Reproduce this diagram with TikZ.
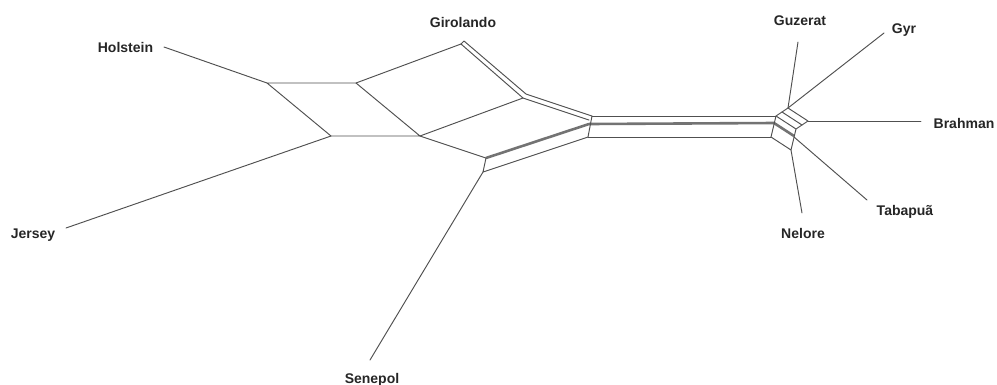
\documentclass[tikz,border=0pt]{standalone}
\usepackage{fontspec}
\setmainfont{Liberation Sans}
\definecolor{netgray}{RGB}{80,80,80}
\definecolor{bandgray}{RGB}{115,115,115}
\begin{document}
\begin{tikzpicture}[x=1pt,y=-1pt,
  edge/.style={draw=netgray, line width=0.95pt, line cap=round, line join=round},
  heavy/.style={draw=bandgray, line width=2.6pt},
  taxon/.style={font=\bfseries\fontsize{14}{16}\selectfont, inner sep=0pt, text=black!85, anchor=base}]
\useasboundingbox (0,0) rectangle (997,384);

% --- split network vertices: left block
\coordinate (A) at (267,83);
\coordinate (B) at (356,83);
\coordinate (C) at (331,136);
\coordinate (D) at (420,136);
\coordinate (E) at (461,44);
\coordinate (E2) at (464,41);
\coordinate (F) at (523,98);
\coordinate (F2) at (526,94);
\coordinate (G) at (589,120);
\coordinate (G2) at (592,116);
\coordinate (Gm) at (589,124);
\coordinate (Gb) at (588,137);
\coordinate (H) at (486,158);
\coordinate (Hb) at (483,172);

% --- right block
\coordinate (Q) at (776,116);
\coordinate (Qm) at (774,123);
\coordinate (M) at (771,137);
\coordinate (T) at (788,108);
\coordinate (R) at (808,121);
\coordinate (S) at (796,129);
\coordinate (Th) at (782,112);
\coordinate (Rh) at (802,125);
\coordinate (Sm) at (794,136);
\coordinate (N) at (791,150);
\coordinate (Tb) at (794,137);

% --- free ends of the pendant edges
\coordinate (holE) at (164,47);
\coordinate (jerE) at (66,228);
\coordinate (senE) at (370,360);
\coordinate (guzE) at (798,42);
\coordinate (gyrE) at (884,33);
\coordinate (braE) at (921,121);
\coordinate (tabE) at (867,200);
\coordinate (nelE) at (802,213);

% --- gray (heavy) split lines
\draw[heavy] (H) -- (Gm);
\draw[heavy] (Gm) -- (Qm);
\draw[heavy] (Qm) -- (Sm);

% --- left block edges
\draw[edge] (A) -- (B) (A) -- (C) (B) -- (D) (C) -- (D);
\draw[edge] (B) -- (E) (D) -- (F);
\draw[edge] (E) -- (F) -- (G);
\draw[edge] (E) -- (E2) -- (F2) -- (G2);
\draw[edge] (D) -- (H) (H) -- (Hb) -- (Gb);
\draw[edge] (G2) -- (Gb);

% --- central band
\draw[edge] (G2) -- (Q);
\draw[edge] (Gb) -- (M);
\draw[edge] (Q) -- (M);

% --- right block edges
\draw[edge] (T) -- (R) (T) -- (Q) (R) -- (S) (Q) -- (S);
\draw[edge] (Th) -- (Rh);
\draw[edge] (S) -- (N) (M) -- (N);

% --- pendant edges
\draw[edge] (holE) -- (A);
\draw[edge] (jerE) -- (C);
\draw[edge] (senE) -- (Hb);
\draw[edge] (guzE) -- (T);
\draw[edge] (gyrE) -- (T);
\draw[edge] (R) -- (braE);
\draw[edge] (Tb) -- (tabE);
\draw[edge] (N) -- (nelE);

% --- taxon labels
\node[taxon] (holstein) at (125.5,52) {Holstein};
\node[taxon] (jersey) at (33,238) {Jersey};
\node[taxon] (girolando) at (463,27) {Girolando};
\node[taxon] (senepol) at (372,383) {Senepol};
\node[taxon] (guzerat) at (800,25) {Guzerat};
\node[taxon] (gyr) at (904,33) {Gyr};
\node[taxon] (brahman) at (964,128) {Brahman};
\node[taxon] (tabapua) at (905,215) {Tabapuã};
\node[taxon] (nelore) at (803,238) {Nelore};
\end{tikzpicture}
\end{document}
